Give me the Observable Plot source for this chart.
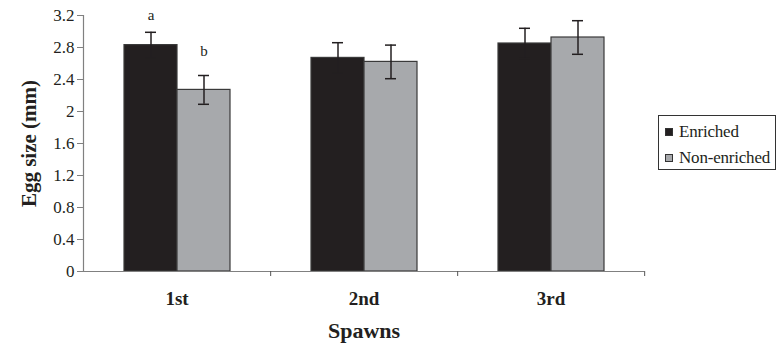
<!DOCTYPE html>
<html>
<head>
<meta charset="utf-8">
<script src="https://cdn.jsdelivr.net/npm/d3@7"></script>
<script src="https://cdn.jsdelivr.net/npm/@observablehq/plot@0.6"></script>
<style>
  html, body { margin: 0; padding: 0; background: #fff; }
  #wrap { position: relative; width: 777px; height: 346px; font-family: 'Liberation Serif', 'Times New Roman', serif; color: #231f20; }
  #wrap svg text { font-family: 'Liberation Serif', 'Times New Roman', serif; }
  #legend { position: absolute; left: 658px; top: 115px; width: 118px; height: 55px; border: 1px solid #333; box-sizing: border-box; font-size: 17px; }
  .item { position: absolute; left: 6px; display: flex; align-items: center; white-space: nowrap; letter-spacing: -0.2px; }
  .sw { width: 8px; height: 8px; border: 1px solid #333; margin-right: 6px; box-sizing: border-box; }
</style>
</head>
<body>
<div id="wrap"><div id="legend"></div></div>
<script>
const spawns = ["1st", "2nd", "3rd"];
const series = ["Enriched", "Non-enriched"];
const enrichedMean = [2.83, 2.67, 2.85];
const enrichedErr = [0.16, 0.19, 0.19];
const nonEnrichedMean = [2.27, 2.62, 2.925];
const nonEnrichedErr = [0.18, 0.21, 0.21];
const yTicks = [0, 0.4, 0.8, 1.2, 1.6, 2, 2.4, 2.8, 3.2];
const seriesColors = ["#231f20", "#a7a9ac"];
const sigLabels = ["a", "b"];
const sigSpawns = ["1st", "1st"];
const sigSeries = ["Enriched", "Non-enriched"];
const sigY = [3.2, 2.75];

const data = spawns.flatMap((s, i) => [
  {spawn: s, series: series[0], mean: enrichedMean[i], err: enrichedErr[i]},
  {spawn: s, series: series[1], mean: nonEnrichedMean[i], err: nonEnrichedErr[i]}
]);
const letters = sigLabels.map((l, i) => ({label: l, spawn: sigSpawns[i], series: sigSeries[i], y: sigY[i]}));

const W = 777, H = 346, mL = 82, mR = 133;
const step = (W - mL - mR) / spawns.length;
const serif = "'Liberation Serif', 'Times New Roman', serif";

const chart = Plot.plot({
  width: W, height: H,
  marginLeft: mL, marginRight: mR, marginTop: 15, marginBottom: 75,
  style: {fontFamily: serif, background: "white", color: "#231f20", overflow: "visible"},
  fx: {domain: spawns, padding: 0, label: null},
  x: {domain: series, paddingInner: 0, paddingOuter: 0.74, axis: null},
  y: {domain: [0, 3.2], axis: null},
  color: {domain: series, range: seriesColors},
  marks: [
    Plot.barY(data, {fx: "spawn", x: "series", y: "mean", fill: "series", stroke: "#3a3a3a", strokeWidth: 1.2}),
    Plot.ruleX(data, {fx: "spawn", x: "series", y1: d => d.mean - d.err, y2: d => d.mean + d.err, stroke: "#231f20", strokeWidth: 1.5}),
    Plot.tickY(data, {fx: "spawn", x: "series", y: d => d.mean + d.err, insetLeft: 21, insetRight: 21, stroke: "#231f20", strokeWidth: 1.5}),
    Plot.tickY(data, {fx: "spawn", x: "series", y: d => d.mean - d.err, insetLeft: 21, insetRight: 21, stroke: "#231f20", strokeWidth: 1.5}),
    Plot.text(letters, {fx: "spawn", x: "series", y: "y", text: "label", fontSize: 15, fill: "#231f20"}),
    Plot.ruleY([0], {stroke: "#808080", strokeWidth: 1.2}),
    Plot.frame({anchor: "left", facetAnchor: "left", stroke: "#808080", strokeWidth: 1.2}),
    Plot.axisY({ticks: yTicks, tickFormat: d => String(d), tickSize: 6, tickPadding: 3, fontSize: 17, label: null, stroke: "#808080"}),
    Plot.axisY({ticks: [1.6], tickSize: 0, tickFormat: () => "", label: "Egg size (mm)", labelArrow: "none", labelAnchor: "center", labelOffset: 62, fontSize: 21, fontWeight: "bold"}),
    Plot.axisFx({anchor: "bottom", tickSize: 5, tickFormat: () => "", dx: step / 2, label: null, stroke: "#555"}),
    Plot.axisFx({anchor: "bottom", tickSize: 0, tickPadding: 20, fontSize: 19, fontWeight: "bold", label: null}),
    Plot.axisFx({anchor: "bottom", tickSize: 0, tickFormat: () => "", label: "Spawns", labelArrow: "none", labelAnchor: "center", labelOffset: 66, fontSize: 22, fontWeight: "bold"})
  ]
});
const wrap = document.getElementById("wrap");
wrap.insertBefore(chart, wrap.firstChild);

const legend = document.getElementById("legend");
series.forEach((s, i) => {
  const item = document.createElement("div");
  item.className = "item";
  item.style.top = (6 + i * 26) + "px";
  const sw = document.createElement("span");
  sw.className = "sw";
  sw.style.background = seriesColors[i];
  item.appendChild(sw);
  item.appendChild(document.createTextNode(s));
  legend.appendChild(item);
});
</script>
</body>
</html>
